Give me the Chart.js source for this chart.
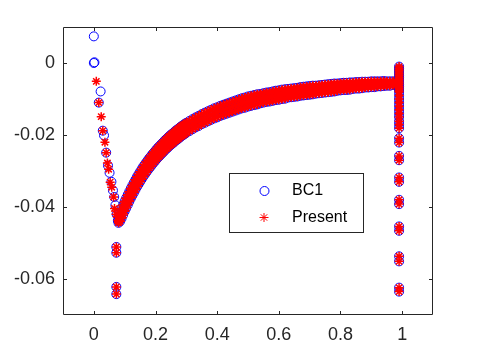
<!DOCTYPE html>
<html lang="en">
<head>
    <meta charset="UTF-8">
    <title>BC1 vs Present</title>
    <script src="https://cdn.jsdelivr.net/npm/chart.js"></script>
    <style>
        body { margin: 0; background: #fff; }
    </style>
</head>
<body>
    <canvas id="scatterChart" width="478" height="359"></canvas>
    <script>
        // Thick smooth band: both series overlap here. Read as a top edge,
        // a middle line and a bottom edge of marker centres.
        const bandX = [0.080, 0.085, 0.090, 0.095, 0.100, 0.105, 0.110, 0.115, 0.120, 0.125,
                       0.130, 0.135, 0.140, 0.145, 0.150, 0.155, 0.160, 0.165, 0.170, 0.175,
                       0.180, 0.185, 0.190, 0.195, 0.200, 0.205, 0.210, 0.215, 0.220, 0.225,
                       0.230, 0.235, 0.240, 0.245, 0.250, 0.255, 0.260, 0.265, 0.270, 0.275,
                       0.280, 0.285, 0.290, 0.295, 0.300,
                       0.31, 0.32, 0.33, 0.34, 0.35, 0.36, 0.37, 0.38, 0.39, 0.40,
                       0.41, 0.42, 0.43, 0.44, 0.45, 0.46, 0.47, 0.48, 0.49, 0.50,
                       0.51, 0.52, 0.53, 0.54, 0.55, 0.56, 0.57, 0.58, 0.59, 0.60,
                       0.61, 0.62, 0.63, 0.64, 0.65, 0.66, 0.67, 0.68, 0.69, 0.70,
                       0.71, 0.72, 0.73, 0.74, 0.75, 0.76, 0.77, 0.78, 0.79, 0.80,
                       0.81, 0.82, 0.83, 0.84, 0.85, 0.86, 0.87, 0.88, 0.89, 0.90,
                       0.91, 0.92, 0.93, 0.94, 0.95, 0.96, 0.97, 0.98];
        const bandMidY = [-0.0440, -0.0429, -0.0418, -0.0408, -0.0398, -0.0389, -0.0380, -0.0371, -0.0362, -0.0354,
                          -0.0346, -0.0338, -0.0330, -0.0323, -0.0316, -0.0309, -0.0302, -0.0296, -0.0290, -0.0284,
                          -0.0278, -0.0273, -0.0267, -0.0262, -0.0257, -0.0252, -0.0247, -0.0243, -0.0238, -0.0234,
                          -0.0229, -0.0225, -0.0221, -0.0217, -0.0213, -0.0210, -0.0206, -0.0202, -0.0199, -0.0196,
                          -0.0192, -0.0189, -0.0186, -0.0183, -0.0180,
                          -0.0175, -0.0170, -0.0165, -0.0161, -0.0156, -0.0152, -0.0148, -0.0144, -0.0140, -0.0137,
                          -0.0133, -0.0130, -0.0127, -0.0124, -0.0121, -0.0118, -0.0115, -0.0112, -0.0110, -0.0107,
                          -0.0105, -0.0103, -0.0101, -0.0099, -0.0097, -0.0095, -0.0094, -0.0092, -0.0090, -0.0089,
                          -0.0087, -0.0086, -0.0084, -0.0083, -0.0082, -0.0081, -0.0079, -0.0078, -0.0077, -0.0076,
                          -0.0075, -0.0074, -0.0073, -0.0072, -0.0071, -0.0070, -0.0069, -0.0068, -0.0067, -0.0066,
                          -0.0065, -0.0065, -0.0064, -0.0063, -0.0062, -0.0062, -0.0061, -0.0060, -0.0060, -0.0059,
                          -0.0059, -0.0058, -0.0058, -0.0057, -0.0057, -0.0057, -0.0056, -0.0056];
        const bandTopY = [-0.0426, -0.0415, -0.0404, -0.0394, -0.0384, -0.0375, -0.0366, -0.0357, -0.0348, -0.0340,
                          -0.0332, -0.0324, -0.0316, -0.0309, -0.0302, -0.0295, -0.0288, -0.0282, -0.0276, -0.0270,
                          -0.0264, -0.0259, -0.0253, -0.0248, -0.0243, -0.0238, -0.0233, -0.0229, -0.0224, -0.0220,
                          -0.0215, -0.0211, -0.0207, -0.0203, -0.0199, -0.0196, -0.0192, -0.0188, -0.0185, -0.0182,
                          -0.0178, -0.0175, -0.0172, -0.0169, -0.0166,
                          -0.0161, -0.0156, -0.0151, -0.0147, -0.0142, -0.0138, -0.0134, -0.0130, -0.0126, -0.0123,
                          -0.0119, -0.0116, -0.0113, -0.0110, -0.0107, -0.0104, -0.0101, -0.0098, -0.0096, -0.0093,
                          -0.0091, -0.0089, -0.0087, -0.0086, -0.0084, -0.0082, -0.0081, -0.0079, -0.0077, -0.0076,
                          -0.0074, -0.0073, -0.0072, -0.0071, -0.0070, -0.0069, -0.0067, -0.0066, -0.0065, -0.0064,
                          -0.0063, -0.0063, -0.0062, -0.0061, -0.0060, -0.0059, -0.0058, -0.0057, -0.0057, -0.0056,
                          -0.0055, -0.0055, -0.0054, -0.0054, -0.0053, -0.0053, -0.0052, -0.0052, -0.0052, -0.0051,
                          -0.0051, -0.0051, -0.0051, -0.0050, -0.0051, -0.0051, -0.0051, -0.0051];
        const bandBottomY = [-0.0444, -0.0440, -0.0432, -0.0422, -0.0412, -0.0403, -0.0394, -0.0385, -0.0376, -0.0368,
                             -0.0360, -0.0352, -0.0344, -0.0337, -0.0330, -0.0323, -0.0316, -0.0310, -0.0304, -0.0298,
                             -0.0292, -0.0287, -0.0281, -0.0276, -0.0271, -0.0266, -0.0261, -0.0257, -0.0252, -0.0248,
                             -0.0243, -0.0239, -0.0235, -0.0231, -0.0227, -0.0224, -0.0220, -0.0216, -0.0213, -0.0210,
                             -0.0206, -0.0203, -0.0200, -0.0197, -0.0194,
                             -0.0189, -0.0184, -0.0179, -0.0175, -0.0170, -0.0166, -0.0162, -0.0158, -0.0154, -0.0151,
                             -0.0147, -0.0144, -0.0141, -0.0138, -0.0135, -0.0132, -0.0129, -0.0126, -0.0124, -0.0121,
                             -0.0119, -0.0117, -0.0115, -0.0112, -0.0110, -0.0108, -0.0107, -0.0105, -0.0103, -0.0102,
                             -0.0100, -0.0099, -0.0096, -0.0095, -0.0094, -0.0093, -0.0091, -0.0090, -0.0089, -0.0088,
                             -0.0087, -0.0085, -0.0084, -0.0083, -0.0082, -0.0081, -0.0080, -0.0079, -0.0077, -0.0076,
                             -0.0075, -0.0075, -0.0074, -0.0072, -0.0071, -0.0071, -0.0070, -0.0068, -0.0068, -0.0067,
                             -0.0067, -0.0065, -0.0065, -0.0064, -0.0063, -0.0063, -0.0061, -0.0061];

        // Steep left branch
        const bc1LeftX = [0, 0, 0.002, 0.016, 0.022, 0.029, 0.033, 0.040, 0.046, 0.051, 0.057, 0.062, 0.066, 0.070, 0.074, 0.078];
        const bc1LeftY = [0.0074, 0.0, 0.0002, -0.0110, -0.0079, -0.0188, -0.0201, -0.0249, -0.0285, -0.0305, -0.0330, -0.0354, -0.0372, -0.0395, -0.0420, -0.0437];
        const presentLeftX = [0.008, 0.016, 0.024, 0.029, 0.036, 0.040, 0.044, 0.048, 0.053, 0.058, 0.064, 0.067, 0.072, 0.078];
        const presentLeftY = [-0.0051, -0.0110, -0.0149, -0.0188, -0.0220, -0.0249, -0.0278, -0.0295, -0.0331, -0.0345, -0.0372, -0.0404, -0.0420, -0.0437];

        // Isolated points below the left branch
        const leftDropX = 0.073;
        const leftDropY = [-0.0511, -0.0527, -0.0622, -0.0642];

        // Vertical strip near x = 1
        const rightStripX = 0.99;
        const rightStripY = [-0.0010, -0.0015, -0.0020, -0.0025, -0.0030, -0.0035, -0.0040, -0.0045, -0.0050, -0.0055,
                             -0.0060, -0.0065, -0.0070, -0.0075, -0.0080, -0.0090, -0.0100, -0.0110, -0.0120, -0.0130,
                             -0.0140, -0.0150, -0.0162, -0.0171, -0.0181, -0.0209, -0.0221, -0.0258, -0.0270, -0.0318,
                             -0.0330, -0.0380, -0.0392, -0.0454, -0.0466, -0.0537, -0.0551, -0.0624, -0.0635];

        const xTicks = [0, 0.2, 0.4, 0.6, 0.8, 1];
        const yTicks = [-0.06, -0.04, -0.02, 0];
        const seriesNames = ['BC1', 'Present'];

        const axisColor = '#262626';
        const fontFamily = "'Liberation Sans', Arial, Helvetica, sans-serif";

        function pts(xs, ys) {
            return xs.map((x, i) => ({ x: x, y: ys[i] }));
        }

        const bandPts = [].concat(pts(bandX, bandTopY), pts(bandX, bandMidY), pts(bandX, bandBottomY));
        const dropPts = leftDropY.map(y => ({ x: leftDropX, y: y }));
        const stripPts = rightStripY.map(y => ({ x: rightStripX, y: y }));

        const bc1Data = [].concat(pts(bc1LeftX, bc1LeftY), dropPts, bandPts, stripPts);
        const presentData = [].concat(pts(presentLeftX, presentLeftY), dropPts, bandPts, stripPts);

        function drawStar(ctx, cx, cy, r) {
            ctx.beginPath();
            for (let k = 0; k < 4; k++) {
                const a = k * Math.PI / 4;
                ctx.moveTo(cx - r * Math.cos(a), cy - r * Math.sin(a));
                ctx.lineTo(cx + r * Math.cos(a), cy + r * Math.sin(a));
            }
            ctx.stroke();
        }

        // box, inward ticks and the legend, matlab style
        const framePlugin = {
            id: 'frame',
            afterDraw(chart) {
                const ctx = chart.ctx;
                const a = chart.chartArea;
                const xs = chart.scales.x;
                const ys = chart.scales.y;
                const tl = 4;
                ctx.save();
                ctx.strokeStyle = axisColor;
                ctx.lineWidth = 1;
                ctx.beginPath();
                ctx.rect(a.left + 0.5, a.top + 0.5, a.right - a.left - 1, a.bottom - a.top - 1);
                xTicks.forEach(v => {
                    const px = Math.round(xs.getPixelForValue(v)) + 0.5;
                    ctx.moveTo(px, a.bottom); ctx.lineTo(px, a.bottom - tl);
                    ctx.moveTo(px, a.top); ctx.lineTo(px, a.top + tl);
                });
                yTicks.forEach(v => {
                    const py = Math.round(ys.getPixelForValue(v)) + 0.5;
                    ctx.moveTo(a.left, py); ctx.lineTo(a.left + tl, py);
                    ctx.moveTo(a.right, py); ctx.lineTo(a.right - tl, py);
                });
                ctx.stroke();

                // legend box
                const lx = 229.5, ly = 173.5, lw = 134, lh = 59;
                ctx.fillStyle = '#fff';
                ctx.fillRect(lx, ly, lw, lh);
                ctx.strokeRect(lx, ly, lw, lh);

                ctx.strokeStyle = '#0000ff';
                ctx.beginPath();
                ctx.arc(264.5, 191, 4.5, 0, Math.PI * 2);
                ctx.stroke();
                ctx.strokeStyle = '#ff0000';
                drawStar(ctx, 264, 217.5, 4.5);

                ctx.fillStyle = '#000';
                ctx.font = '16px ' + fontFamily;
                ctx.textBaseline = 'middle';
                ctx.textAlign = 'left';
                ctx.fillText(seriesNames[0], 292, 191);
                ctx.fillText(seriesNames[1], 292, 217.5);
                ctx.restore();
            }
        };

        const ctx = document.getElementById('scatterChart').getContext('2d');
        const chart = new Chart(ctx, {
            type: 'scatter',
            data: {
                datasets: [
                    {
                        label: seriesNames[0],
                        data: bc1Data,
                        pointStyle: 'circle',
                        pointRadius: 4.5,
                        borderColor: '#0000ff',
                        backgroundColor: 'rgba(0,0,0,0)',
                        borderWidth: 1,
                        order: 1
                    },
                    {
                        label: seriesNames[1],
                        data: presentData,
                        pointStyle: 'star',
                        pointRadius: 4.5,
                        borderColor: '#ff0000',
                        backgroundColor: '#ff0000',
                        borderWidth: 1.5,
                        order: 0
                    }
                ]
            },
            options: {
                responsive: false,
                animation: false,
                layout: { padding: { top: 27, right: 45, left: 0, bottom: 0 } },
                plugins: {
                    legend: { display: false },
                    tooltip: { enabled: false }
                },
                scales: {
                    x: {
                        type: 'linear',
                        min: -0.1,
                        max: 1.1,
                        grid: { display: false, drawTicks: false },
                        border: { display: false },
                        afterBuildTicks: s => { s.ticks = xTicks.map(v => ({ value: v })); },
                        afterFit: s => { s.height = 44; },
                        ticks: {
                            color: axisColor,
                            font: { family: fontFamily, size: 18 },
                            padding: 9,
                            maxRotation: 0,
                            callback: v => String(+v.toFixed(2))
                        }
                    },
                    y: {
                        type: 'linear',
                        min: -0.07,
                        max: 0.01,
                        grid: { display: false, drawTicks: false },
                        border: { display: false },
                        afterBuildTicks: s => { s.ticks = yTicks.map(v => ({ value: v })); },
                        afterFit: s => { s.width = 63; },
                        ticks: {
                            color: axisColor,
                            font: { family: fontFamily, size: 18 },
                            padding: 8,
                            callback: v => String(+v.toFixed(2))
                        }
                    }
                }
            },
            plugins: [framePlugin]
        });
    </script>
</body>
</html>
